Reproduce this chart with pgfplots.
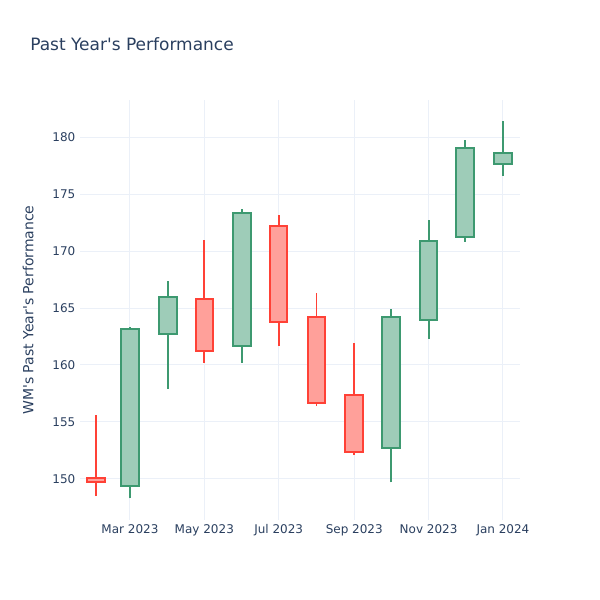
\documentclass[border=0pt]{standalone}
\usepackage{pgfplots}
\pgfplotsset{compat=1.18}
\usepackage{fontspec}
\setmainfont{DejaVu Sans}[Ligatures=TeXOff]
\definecolor{incline}{HTML}{3D9970}
\definecolor{incfill}{HTML}{9ECCB8}
\definecolor{decline}{HTML}{FF4136}
\definecolor{decfill}{HTML}{FFA09A}
\definecolor{gridc}{HTML}{EBF0F8}
\definecolor{txt}{HTML}{2A3F5F}
% #1 inc/dec, #2 x (day of 2023), #3 open, #4 high, #5 low, #6 close
\newcommand\candle[6]{%
  \pgfmathsetmacro\xl{#2-7.2}%
  \pgfmathsetmacro\xr{#2+7.2}%
  \pgfmathsetmacro\bl{min(#3,#6)}%
  \pgfmathsetmacro\bh{max(#3,#6)}%
  \addplot[color=#1line, line width=1.4pt] coordinates {(#2,#5) (#2,\bl)};
  \addplot[color=#1line, line width=1.4pt] coordinates {(#2,\bh) (#2,#4)};
  \addplot[draw=#1line, fill=#1fill, line width=1.5pt] coordinates {(\xl,#3) (\xr,#3) (\xr,#6) (\xl,#6)} -- cycle;
}
\begin{document}
\begin{tikzpicture}
\begin{axis}[
  at={(0,0)}, anchor=south west,
  scale only axis, width=330pt, height=315pt,
  xmin=18, xmax=379, ymin=146.4, ymax=183.25,
  xtick={59,120,181,243,304,365},
  xticklabels={Mar 2023, May 2023, Jul 2023, Sep 2023, Nov 2023, Jan 2024},
  ytick={150,155,...,180},
  grid=major, major grid style={gridc, line width=0.75pt},
  axis line style={draw=none}, tick style={draw=none},
  ticklabel style={font=\fontsize{9}{10}\selectfont, text=txt},
  /pgf/number format/assume math mode=true,
  ylabel={WM's Past Year's Performance},
  ylabel style={font=\fontsize{10.5}{12}\selectfont, text=txt, at={(axis description cs:-0.118,0.5)}, anchor=center},
]
\candle{dec}{31}{150.06}{155.6}{148.5}{149.75}
\candle{inc}{59}{149.4}{163.3}{148.3}{163.13}
\candle{inc}{90}{162.7}{167.4}{157.9}{166.0}
\candle{dec}{120}{165.8}{171.0}{160.2}{161.2}
\candle{inc}{151}{161.7}{173.66}{160.2}{173.36}
\candle{dec}{181}{172.2}{173.2}{161.7}{163.8}
\candle{dec}{212}{164.2}{166.3}{156.4}{156.7}
\candle{dec}{243}{157.4}{161.9}{152.1}{152.4}
\candle{inc}{273}{152.75}{164.9}{149.7}{164.24}
\candle{inc}{304}{163.97}{172.7}{162.3}{170.9}
\candle{inc}{334}{171.2}{179.7}{170.8}{179.0}
\candle{inc}{365}{177.6}{181.4}{176.6}{178.6}
\end{axis}
\node[anchor=west, inner sep=0pt, text=txt, font=\fontsize{12.75}{15}\selectfont] at (-37.5pt,357pt) {Past Year's Performance};
\path[use as bounding box] (-60pt,-60pt) rectangle (390pt,390pt);
\end{tikzpicture}
\end{document}
